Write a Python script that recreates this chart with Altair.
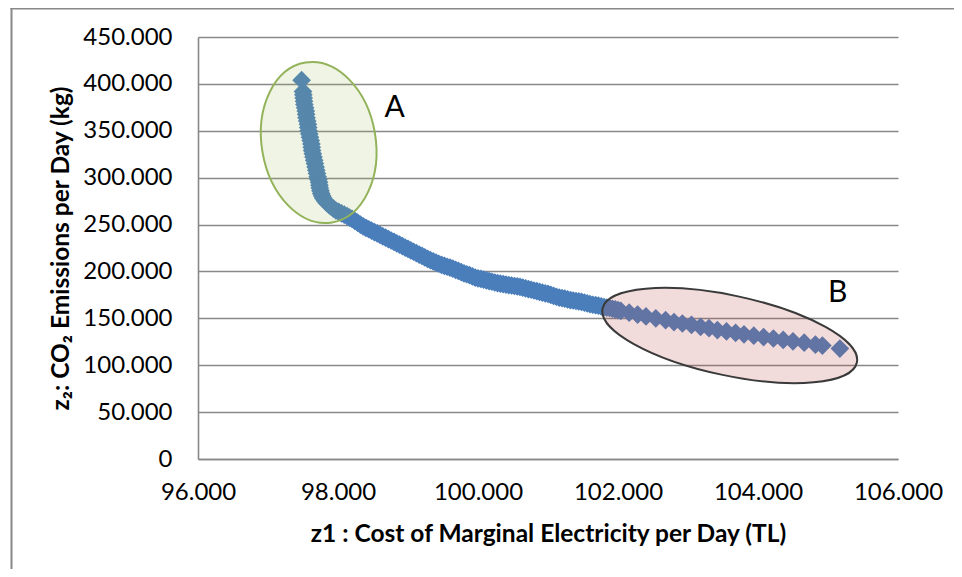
import altair as alt
import pandas as pd

# z1: cost of marginal electricity per day (TL), z2: CO2 emissions per day (kg)
cost_tl = [
    97480,
    97500, 97505, 97510, 97515, 97520, 97530, 97540, 97545, 97550, 97560,
    97570, 97575, 97580, 97590, 97600, 97610, 97620, 97625, 97630, 97640,
    97650, 97660, 97670, 97680, 97690, 97700, 97710, 97720, 97730, 97735,
    97740, 97750, 97760, 97775, 97790, 97815, 97840, 97870, 97900, 97935,
    97970, 98010, 98050, 98090, 98130, 98165, 98200, 98240, 98280, 98320,
    98360, 98400, 98440, 98480, 98520, 98560, 98600, 98640, 98680, 98720,
    98760, 98800, 98840, 98880, 98920, 98960, 99000, 99040, 99080, 99120,
    99160, 99200, 99240, 99280, 99320, 99360, 99400, 99440, 99480, 99520,
    99560, 99600, 99640, 99680, 99720, 99760, 99800, 99840, 99880, 99920,
    99960, 100000, 100040, 100080, 100120, 100160, 100200, 100240, 100280, 100320,
    100360, 100400, 100440, 100480, 100520, 100560, 100600, 100640, 100680, 100720,
    100760, 100800, 100840, 100880, 100920, 100960, 101000, 101040, 101080, 101120,
    101160, 101200, 101240, 101280, 101320, 101360, 101400, 101440, 101480, 101520,
    101560, 101600, 101640, 101680, 101720, 101760, 101800, 101840, 101880, 101920,
    101960, 102000, 102040, 102160, 102280, 102400, 102540, 102680, 102800, 102920,
    103050, 103180, 103300, 103420, 103550, 103680, 103800, 103940, 104080, 104220,
    104360, 104500, 104660, 104820, 104920, 105170,
]
co2_kg = [
    404000,
    392000, 388500, 385000, 381500, 378000, 374500, 371000, 367500, 364000, 360500,
    357000, 353500, 350000, 346500, 343000, 339500, 336000, 332500, 329000, 325500,
    322000, 318500, 315000, 311500, 308000, 304500, 301000, 298000, 295000, 292000,
    289000, 286000, 283000, 280500, 278000, 275500, 273000, 271000, 269000, 267000,
    265000, 263500, 262000, 260500, 259000, 257500, 256000, 254000, 252000, 250000,
    248000, 246500, 245000, 243500, 242000, 240500, 239000, 237500, 236000, 234500,
    233000, 231500, 230000, 228500, 227000, 225500, 224000, 222500, 221000, 219500,
    218000, 216500, 215000, 213500, 212000, 210800, 209500, 208200, 207000, 206000,
    205000, 204000, 203000, 201700, 200500, 199200, 198000, 197000, 196000, 194700,
    193500, 192700, 192000, 191200, 190500, 189700, 189000, 188200, 187500, 187000,
    186500, 186000, 185500, 185000, 184500, 184000, 183500, 182700, 182000, 181200,
    180500, 179700, 179000, 178200, 177500, 176700, 176000, 175000, 174000, 173000,
    172000, 171500, 171000, 170200, 169500, 169000, 168500, 168000, 167500, 166700,
    166000, 165200, 164500, 164000, 163500, 162700, 162000, 161500, 161000, 160200,
    159500, 158700, 158000, 156000, 154000, 152000, 150000, 148000, 146000, 144500,
    143000, 141000, 139500, 137500, 136000, 134500, 133000, 131500, 130000, 128500,
    127000, 125500, 124000, 122000, 121000, 117700,
]

x_ticks = [96000, 98000, 100000, 102000, 104000, 106000]
y_ticks = [0, 50000, 100000, 150000, 200000, 250000, 300000, 350000, 400000, 450000]

# region annotations (ellipse centres) and their letters
region_names = ["A", "B"]
region_cx = [97724, 103596]
region_cy = [337500, 131700]
letter_x = [98810, 105140]
letter_y = [374400, 177300]

W, H = 700, 422
FONT = "Lato"
fmt = "replace(format(datum.value, ','), ',', '.')"

pts = pd.DataFrame({"cost": cost_tl, "co2": co2_kg})
regions = pd.DataFrame({"name": region_names, "cx": region_cx, "cy": region_cy})
letters = pd.DataFrame({"name": region_names, "lx": letter_x, "ly": letter_y})

xscale = alt.Scale(domain=[96000, 106000], nice=False, zero=False)
yscale = alt.Scale(domain=[0, 450000], nice=False)

xaxis = alt.Axis(
    values=x_ticks, labelExpr=fmt, grid=False, ticks=False, tickSize=0,
    labelFlush=False, labelOverlap=False,
    title="z1 : Cost of Marginal Electricity per Day (TL)",
    labelFont=FONT, labelFontSize=24, labelColor="#000", labelPadding=21,
    titleFont=FONT, titleFontSize=24.5, titleFontWeight="bold", titleColor="#000",
    titlePadding=18, domainColor="#888", domainWidth=1.6,
)
yaxis = alt.Axis(
    values=y_ticks, labelExpr=fmt, grid=True, gridColor="#888", gridWidth=1.6,
    ticks=False, tickSize=0, labelFlush=False, labelOverlap=False,
    title="z₂: CO₂ Emissions per Day (kg)",
    labelFont=FONT, labelFontSize=24, labelColor="#000", labelPadding=26,
    titleFont=FONT, titleFontSize=24.5, titleFontWeight="bold", titleColor="#000",
    titlePadding=9, domainColor="#888", domainWidth=1.6,
)

points = alt.Chart(pts).mark_point(
    shape="diamond", filled=True, size=350, color="#4A7EBB", opacity=1
).encode(
    x=alt.X("cost:Q", scale=xscale, axis=xaxis),
    y=alt.Y("co2:Q", scale=yscale, axis=yaxis),
)

ell_a = alt.Chart(regions).transform_filter("datum.name == 'A'").mark_point(
    shape="M-1,0A1,0.704,0,1,1,1,0A1,0.704,0,1,1,-1,0Z",
    size=26244, angle=80.5, filled=True, fill="#9BBB59", fillOpacity=0.16,
    stroke="#93B35A", strokeWidth=2, opacity=1,
).encode(x=alt.X("cx:Q", scale=xscale), y=alt.Y("cy:Q", scale=yscale))

ell_b = alt.Chart(regions).transform_filter("datum.name == 'B'").mark_point(
    shape="M-1,0A1,0.3077,0,1,1,1,0A1,0.3077,0,1,1,-1,0Z",
    size=67600, angle=12, filled=True, fill="#C0504D", fillOpacity=0.2,
    stroke="#3A3A3A", strokeWidth=2, opacity=1,
).encode(x=alt.X("cx:Q", scale=xscale), y=alt.Y("cy:Q", scale=yscale))

text = alt.Chart(letters).mark_text(
    font=FONT, fontSize=30, color="#000", align="center", baseline="middle"
).encode(
    x=alt.X("lx:Q", scale=xscale), y=alt.Y("ly:Q", scale=yscale), text="name:N"
)

frame_data = alt.Data(values=[{"k": 1}])
frame_left = alt.Chart(frame_data).mark_rule(color="#888", strokeWidth=2).encode(
    x=alt.value(-186.5), y=alt.value(-29), y2=alt.value(540)
)
frame_top = alt.Chart(frame_data).mark_rule(color="#888", strokeWidth=2).encode(
    y=alt.value(-28.5), x=alt.value(-187.5), x2=alt.value(760)
)

chart = alt.layer(points, ell_a, ell_b, text, frame_left, frame_top).properties(
    width=W, height=H,
    autosize=alt.AutoSizeParams(type="none"),
    padding={"left": 190, "top": 29, "right": 56, "bottom": 110},
    background="white",
).configure_view(stroke=None)

chart.save("out.html", embed_options={"renderer": "svg", "actions": False})
